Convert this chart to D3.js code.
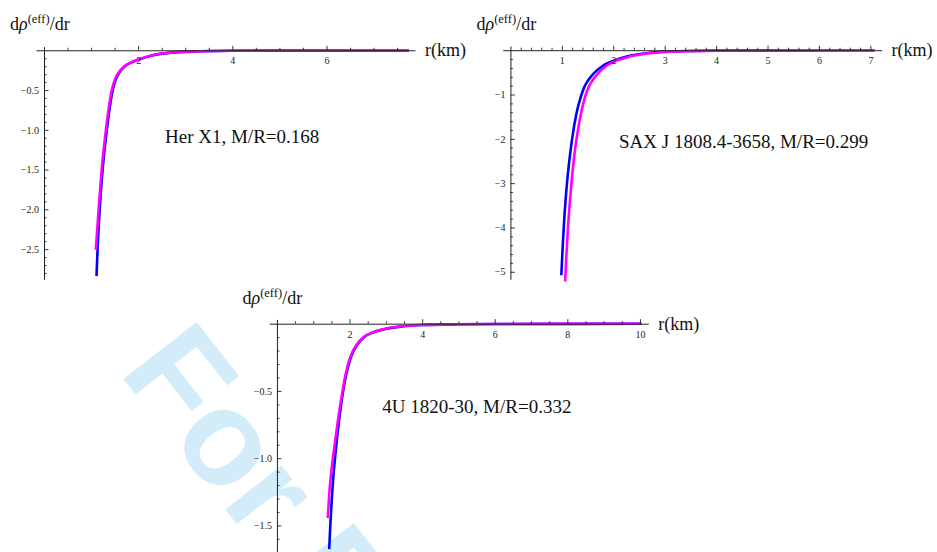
<!DOCTYPE html>
<html><head><meta charset="utf-8">
<script src="https://cdn.jsdelivr.net/npm/d3@7"></script>
<style>body{margin:0;background:#fff}svg{display:block}</style>
</head><body>
<svg id="c" width="937" height="552"></svg>
<script>
// ---------- DATA ----------
// Her X1, M/R=0.168
const herR_blue = [1.115, 1.138, 1.183, 1.245, 1.335, 1.46, 1.53, 1.6, 1.7, 1.85, 2.0, 2.3, 2.7, 3.2, 4.0, 5.0, 6.0, 7.0, 7.75];
const herY_blue = [-2.84, -2.5, -2.0, -1.5, -1.0, -0.5, -0.36, -0.28, -0.21, -0.155, -0.12, -0.065, -0.03, -0.015, -0.006, -0.003, -0.002, -0.001, -0.001];
const herR_mag  = [1.10, 1.16, 1.225, 1.315, 1.44, 1.51, 1.585, 1.69, 1.84, 2.0, 2.3, 2.7, 3.2, 4.0, 5.0, 6.0, 7.0, 7.75];
const herY_mag  = [-2.51, -2.0, -1.5, -1.0, -0.5, -0.36, -0.28, -0.21, -0.155, -0.115, -0.062, -0.029, -0.014, -0.006, -0.003, -0.002, -0.001, -0.001];
const herXTicks = [2, 4, 6];
const herYTicks = [-0.5, -1.0, -1.5, -2.0, -2.5];

// SAX J 1808.4-3658, M/R=0.299
const saxR_blue = [0.99, 1.02, 1.05, 1.10, 1.15, 1.20, 1.28, 1.37, 1.43, 1.49, 1.57, 1.65, 1.8, 2.0, 2.3, 2.7, 3.0, 3.5, 4.0, 5.0, 6.0, 7.08];
const saxY_blue = [-5.08, -4.35, -3.75, -3.0, -2.45, -2.0, -1.45, -1.05, -0.85, -0.72, -0.59, -0.49, -0.35, -0.24, -0.13, -0.06, -0.035, -0.017, -0.009, -0.004, -0.002, -0.001];
const saxR_mag  = [1.065, 1.09, 1.12, 1.18, 1.23, 1.28, 1.36, 1.45, 1.51, 1.57, 1.65, 1.73, 1.87, 2.05, 2.3, 2.7, 3.0, 3.5, 4.0, 5.0, 6.0, 7.08];
const saxY_mag  = [-5.22, -4.6, -4.0, -3.1, -2.5, -2.05, -1.5, -1.06, -0.86, -0.73, -0.6, -0.49, -0.35, -0.24, -0.15, -0.07, -0.04, -0.02, -0.01, -0.005, -0.002, -0.001];
const saxXTicks = [1, 2, 3, 4, 5, 6, 7];
const saxYTicks = [-1, -2, -3, -4, -5];

// 4U 1820-30, M/R=0.332
const fuR_blue = [1.44, 1.47, 1.51, 1.55, 1.60, 1.66, 1.72, 1.79, 1.87, 1.95, 2.05, 2.2, 2.4, 2.65, 3.0, 3.4, 4.0, 5.0, 6.0, 8.0, 10.04];
const fuY_blue = [-1.676, -1.5, -1.31, -1.15, -1.0, -0.84, -0.70, -0.56, -0.43, -0.33, -0.24, -0.16, -0.10, -0.065, -0.038, -0.022, -0.01, -0.004, -0.002, -0.001, -0.0005];
const fuR_mag  = [1.40, 1.44, 1.49, 1.55, 1.61, 1.67, 1.73, 1.79, 1.86, 1.94, 2.04, 2.2, 2.4, 2.65, 3.0, 3.4, 4.0, 5.0, 6.0, 8.0, 10.04];
const fuY_mag  = [-1.445, -1.27, -1.12, -0.98, -0.86, -0.74, -0.63, -0.53, -0.42, -0.32, -0.235, -0.155, -0.097, -0.063, -0.037, -0.021, -0.01, -0.004, -0.002, -0.001, -0.0005];
const fuXTicks = [2, 4, 6, 8, 10];
const fuYTicks = [-0.5, -1.0, -1.5];

const titles = ["Her X1, M/R=0.168", "SAX J 1808.4-3658, M/R=0.299", "4U 1820-30, M/R=0.332"];
const xAxisLabel = "r(km)";

// ---------- LAYOUT ----------
const svg = d3.select("#c");
const SERIF = "'Liberation Serif','Times New Roman',Times,serif";

// watermark
svg.append("text")
  .attr("transform", "translate(118,372) rotate(52)")
  .style("font-family", "'Liberation Sans',Arial,sans-serif")
  .style("font-weight", "bold").style("font-size", "135px")
  .attr("fill", "#d2ecfa")
  .text("For Peer Review");

const panels = [
  { rb: herR_blue, yb: herY_blue, rm: herR_mag, ym: herY_mag,
    xDom: [-0.17, 7.88], xRng: [36, 415], yDom: [0.045, -2.88], yRng: [46.7, 279.3],
    xMaj: herXTicks, xMin: d3.range(0.5, 7.6, 0.5), yMaj: herYTicks, yMin: d3.range(-0.1, -2.85, -0.1),
    fmt: d3.format(".1f"), title: titles[0], tPos: [165, 142.7],
    lab: [10, 30], xl: [425, 56] },
  { rb: saxR_blue, yb: saxY_blue, rm: saxR_mag, ym: saxY_mag,
    xDom: [-0.15, 7.22], xRng: [502.7, 881.7], yDom: [0.095, -5.17], yRng: [46, 279.3],
    xMaj: saxXTicks, xMin: d3.range(0.2, 7.15, 0.2), yMaj: saxYTicks, yMin: d3.range(-0.2, -5.15, -0.2),
    fmt: d3.format("d"), title: titles[1], tPos: [619, 147.7],
    lab: [476.5, 30], xl: [891.5, 56] },
  { rb: fuR_blue, yb: fuY_blue, rm: fuR_mag, ym: fuY_mag,
    xDom: [-0.21, 10.23], xRng: [269.3, 648.3], yDom: [0.032, -1.735], yRng: [319.4, 557],
    xMaj: fuXTicks, xMin: d3.range(0.5, 10.1, 0.5), yMaj: fuYTicks, yMin: d3.range(-0.1, -1.75, -0.1),
    fmt: d3.format(".1f"), title: titles[2], tPos: [382.3, 413.3],
    lab: [242.5, 304], xl: [658.3, 330] }
];

panels.forEach(p => {
  const x = d3.scaleLinear().domain(p.xDom).range(p.xRng);
  const y = d3.scaleLinear().domain(p.yDom).range(p.yRng);
  const line = d3.line().x(d => x(d[0])).y(d => y(d[1])).curve(d3.curveMonotoneX);
  const g = svg.append("g");
  const blue = p.rb.map((r, i) => [r, p.yb[i]]);
  const mag = p.rm.map((r, i) => [r, p.ym[i]]);
  g.append("path").attr("d", line(blue)).attr("fill", "none").attr("stroke", "#0000ff").attr("stroke-width", 2.6);
  g.append("path").attr("d", line(mag)).attr("fill", "none").attr("stroke", "#ff00ff").attr("stroke-width", 2.6);

  const y0 = y(0), x0 = x(0);
  // x axis
  const gxMin = svg.append("g").attr("transform", `translate(0,${y0})`)
    .call(d3.axisBottom(x).tickValues(p.xMin.filter(v => !p.xMaj.some(m => Math.abs(m - v) < 1e-6)))
      .tickSize(-2.5).tickSizeOuter(0).tickFormat(""));
  gxMin.select(".domain").remove();
  const gx = svg.append("g").attr("transform", `translate(0,${y0})`)
    .call(d3.axisBottom(x).tickValues(p.xMaj).tickSize(-4.5).tickSizeOuter(0).tickPadding(7).tickFormat(d3.format("d")));
  // y axis
  const gyMin = svg.append("g").attr("transform", `translate(${x0},0)`)
    .call(d3.axisLeft(y).tickValues(p.yMin.filter(v => !p.yMaj.some(m => Math.abs(m - v) < 1e-6)))
      .tickSize(-2.5).tickSizeOuter(0).tickFormat(""));
  gyMin.select(".domain").remove();
  const gy = svg.append("g").attr("transform", `translate(${x0},0)`)
    .call(d3.axisLeft(y).tickValues(p.yMaj).tickSize(-4.5).tickSizeOuter(0).tickPadding(5).tickFormat(p.fmt));
  [gxMin, gx, gyMin, gy].forEach(a => {
    a.selectAll("line").attr("stroke", "#222").attr("stroke-width", 0.9);
    a.selectAll(".domain").attr("stroke", "#222").attr("stroke-width", 1);
    a.selectAll("text").style("font-family", SERIF).style("font-size", "10px").attr("fill", "#222");
  });

  // y label
  const t = svg.append("text").attr("x", p.lab[0]).attr("y", p.lab[1])
    .style("font-family", SERIF).style("font-size", "18px").attr("fill", "#111");
  t.append("tspan").text("d");
  t.append("tspan").style("font-style", "italic").text("ρ");
  t.append("tspan").attr("dy", -7).style("font-size", "12.5px").text("(eff)");
  t.append("tspan").attr("dy", 7).text("/dr");
  // x label
  svg.append("text").attr("x", p.xl[0]).attr("y", p.xl[1])
    .style("font-family", SERIF).style("font-size", "18px").attr("fill", "#111").text(xAxisLabel);
  // annotation
  svg.append("text").attr("x", p.tPos[0]).attr("y", p.tPos[1])
    .style("font-family", SERIF).style("font-size", "19px").attr("fill", "#111").text(p.title);
});
</script>
</body></html>
